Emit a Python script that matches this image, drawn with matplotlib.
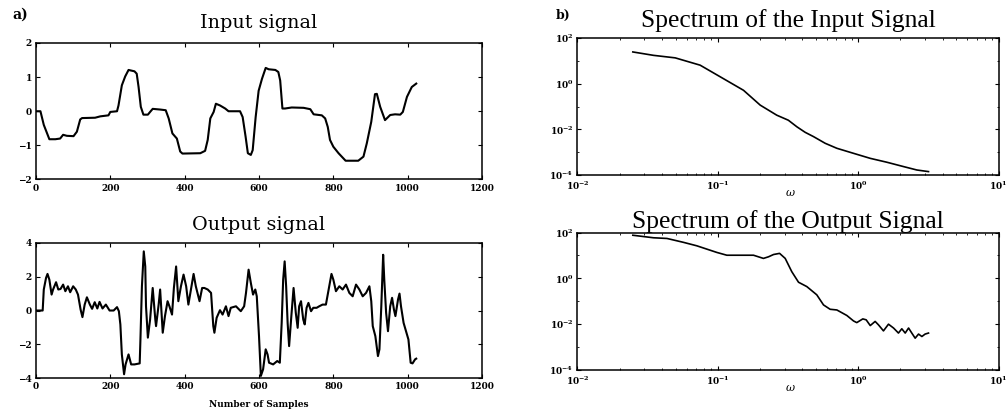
import matplotlib
matplotlib.use('Agg')
import matplotlib.pyplot as plt
from matplotlib.ticker import LogLocator, NullFormatter

# input signal (sample index, value)
in_samples = [0, 12, 21, 36, 52, 65, 73, 83, 101, 110,
              119, 124, 159, 173, 195, 200, 218, 222, 231, 240,
              249, 265, 271, 276, 282, 289, 301, 307, 314, 334,
              349, 357, 367, 379, 388, 394, 442, 455, 462, 469,
              478, 484, 495, 509, 518, 549, 556, 564, 570, 578,
              583, 591, 599, 608, 618, 626, 644, 652, 657, 663,
              670, 688, 720, 738, 747, 769, 778, 785, 791, 800,
              814, 833, 867, 881, 890, 902, 912, 917, 926, 939,
              953, 966, 980, 987, 998, 1011, 1023]
in_values = [0, 0, -0.4, -0.82, -0.82, -0.8, -0.69, -0.72, -0.73, -0.6,
             -0.24, -0.2, -0.19, -0.15, -0.12, -0.02, 0, 0.17, 0.76, 1.02,
             1.21, 1.17, 1.1, 0.71, 0.13, -0.1, -0.1, -0.02, 0.07, 0.05,
             0.03, -0.21, -0.65, -0.8, -1.18, -1.24, -1.23, -1.16, -0.84, -0.21,
             -0.02, 0.22, 0.17, 0.08, 0, 0, -0.17, -0.75, -1.23, -1.28,
             -1.14, -0.17, 0.6, 0.95, 1.27, 1.23, 1.21, 1.15, 0.9, 0.08,
             0.08, 0.11, 0.1, 0.06, -0.09, -0.12, -0.21, -0.46, -0.84, -1.04,
             -1.23, -1.45, -1.45, -1.33, -0.94, -0.31, 0.5, 0.51, 0.13, -0.26,
             -0.11, -0.09, -0.1, -0.02, 0.42, 0.71, 0.81]

# output signal
out_samples = [0, 18, 21, 27, 31, 36, 42, 46, 54, 60,
               66, 73, 79, 86, 92, 100, 107, 113, 120, 125,
               131, 137, 145, 151, 158, 165, 171, 179, 188, 198,
               209, 218, 223, 227, 231, 237, 241, 249, 256, 265,
               279, 281, 285, 290, 294, 296, 301, 307, 314, 321,
               323, 330, 334, 341, 347, 354, 359, 366, 371, 377,
               383, 390, 397, 404, 410, 417, 424, 430, 440, 447,
               453, 462, 471, 477, 480, 486, 495, 502, 511, 518,
               524, 538, 551, 560, 565, 572, 578, 584, 590, 594,
               600, 605, 611, 618, 623, 627, 638, 649, 656, 661,
               665, 669, 673, 677, 681, 687, 693, 699, 704, 708,
               713, 719, 723, 728, 733, 740, 746, 755, 762, 771,
               780, 789, 795, 800, 807, 816, 825, 834, 843, 852,
               861, 870, 879, 888, 897, 902, 906, 913, 920, 924,
               929, 934, 937, 942, 947, 953, 958, 963, 967, 974,
               978, 982, 989, 998, 1002, 1008, 1013, 1020, 1023]
out_values = [0, 0, 1.24, 1.92, 2.16, 1.82, 0.94, 1.24, 1.67, 1.24,
              1.27, 1.53, 1.14, 1.43, 1.08, 1.43, 1.24, 0.94, 0.06, -0.39,
              0.35, 0.78, 0.35, 0.1, 0.49, 0.12, 0.51, 0.12, 0.35, 0,
              0, 0.2, -0.04, -0.82, -2.59, -3.76, -3.18, -2.59, -3.18, -3.18,
              -3.12, -1.71, 1.43, 3.49, 2.6, 0.25, -1.6, -0.53, 1.33, -0.53,
              -0.92, 0.35, 1.24, -1.31, -0.33, 0.55, 0.25, -0.24, 1.33, 2.6,
              0.55, 1.43, 2.12, 1.43, 0.35, 1.24, 2.16, 1.43, 0.55, 1.33,
              1.33, 1.24, 1.04, -0.92, -1.31, -0.43, 0.02, -0.24, 0.25, -0.33,
              0.16, 0.25, -0.04, 0.25, 1.04, 2.41, 1.63, 0.94, 1.24, 0.84,
              -1.51, -3.86, -3.47, -2.29, -2.59, -3.08, -3.18, -2.98, -3.08, -0.73,
              1.82, 2.9, 1.43, -0.73, -2.1, -0.33, 1.33, -0.14, -1.02, 0.25,
              0.55, -0.53, -0.82, 0.16, 0.45, -0.04, 0.16, 0.16, 0.25, 0.35,
              0.35, 1.43, 2.16, 1.82, 1.14, 1.43, 1.24, 1.53, 1.04, 0.84,
              1.53, 1.24, 0.84, 1.04, 1.43, 0.55, -0.92, -1.51, -2.69, -2.29,
              0.25, 3.29, 1.82, -0.14, -1.22, 0.25, 0.75, 0.06, -0.33, 0.65,
              1.0, 0.25, -0.73, -1.41, -1.71, -3.08, -3.12, -2.88, -2.84]

# spectrum of the input signal
in_freq = [0.0248, 0.0348, 0.0497, 0.0748, 0.1096, 0.1524, 0.2004, 0.263, 0.318, 0.366,
           0.419, 0.481, 0.582, 0.705, 0.927, 1.219, 1.6, 2.104, 2.618, 3.17]
in_power = [24.5, 17.4, 13.5, 6.46, 1.66, 0.513, 0.115, 0.0417, 0.0251, 0.0129,
            0.00741, 0.00479, 0.00245, 0.00148, 0.00089, 0.000537, 0.000363, 0.000234, 0.000166, 0.000141]

# spectrum of the output signal
out_freq = [0.0248, 0.0348, 0.0434, 0.0569, 0.0708, 0.0984, 0.1159, 0.1795, 0.2113, 0.2296,
            0.2495, 0.2754, 0.302, 0.3365, 0.3758, 0.4305, 0.507, 0.5662, 0.631, 0.705,
            0.83, 0.927, 0.977, 1.079, 1.14, 1.219, 1.321, 1.396, 1.514, 1.644,
            1.786, 1.936, 2.046, 2.163, 2.286, 2.41, 2.547, 2.692, 2.844, 2.999, 3.17]
out_power = [75.9, 58.9, 55.0, 37.2, 26.3, 13.5, 10.2, 10.2, 7.41, 8.71,
             10.96, 12.3, 7.41, 1.95, 0.676, 0.437, 0.191, 0.0692, 0.0447, 0.0417,
             0.024, 0.0138, 0.0117, 0.017, 0.0155, 0.0087, 0.0132, 0.0093, 0.0051, 0.01,
             0.0068, 0.0041, 0.0063, 0.0041, 0.0068, 0.0041, 0.00245, 0.0037, 0.0029, 0.0037, 0.0041]

plt.rcParams['font.family'] = 'DejaVu Serif'
plt.rcParams['mathtext.fontset'] = 'dejavuserif'

fig = plt.figure(figsize=(10.08, 4.19), dpi=100)

ax1 = fig.add_axes([0.0357, 0.5716, 0.4425, 0.3258])
ax2 = fig.add_axes([0.0357, 0.0971, 0.4425, 0.3236])
ax3 = fig.add_axes([0.5729, 0.5823, 0.4177, 0.327])
ax4 = fig.add_axes([0.5729, 0.1169, 0.4177, 0.3282])


def style(ax):
    for s in ax.spines.values():
        s.set_linewidth(1.1)
    ax.tick_params(direction='in', top=True, right=True, length=3, width=0.8,
                   labelsize=6.5, pad=3)
    ax.tick_params(which='minor', direction='in', top=True, right=True, length=1.5, width=0.6)
    for lab in ax.get_xticklabels() + ax.get_yticklabels():
        lab.set_fontweight('bold')


# a) time signals
ax1.plot(in_samples, in_values, color='black', lw=1.5)
ax1.set_xlim(0, 1200)
ax1.set_ylim(-2, 2)
ax1.set_xticks(range(0, 1201, 200))
ax1.set_yticks([-2, -1, 0, 1, 2])
ax1.set_title('Input signal', fontsize=13.8, pad=10.5)
style(ax1)

ax2.plot(out_samples, out_values, color='black', lw=1.5)
ax2.set_xlim(0, 1200)
ax2.set_ylim(-4, 4)
ax2.set_xticks(range(0, 1201, 200))
ax2.set_yticks([-4, -2, 0, 2, 4])
ax2.set_title('Output signal', fontsize=13.8, pad=9)
ax2.set_xlabel('Number of Samples', fontsize=6.5, fontweight='bold', labelpad=6)
style(ax2)

# b) spectra
for ax, f, p, title, pad in [(ax3, in_freq, in_power, 'Spectrum of the Input Signal', 8),
                             (ax4, out_freq, out_power, 'Spectrum of the Output Signal', 3)]:
    ax.loglog(f, p, color='black', lw=1.2)
    ax.set_xlim(1e-2, 1e1)
    ax.set_ylim(1e-4, 1e2)
    ax.set_yticks([1e-4, 1e-2, 1e0, 1e2])
    ax.xaxis.set_minor_locator(LogLocator(base=10, subs=range(2, 10)))
    ax.xaxis.set_minor_formatter(NullFormatter())
    ax.yaxis.set_minor_locator(LogLocator(base=10, subs=[1.0], numticks=10))
    ax.yaxis.set_minor_formatter(NullFormatter())
    ax.set_title(title, fontsize=18.4, fontfamily='Liberation Serif', pad=pad)
    ax.text(0.505, -0.13, r'$\omega$', transform=ax.transAxes, ha='center', va='center',
            fontsize=8, fontweight='bold')
    style(ax)

fig.text(0.012, 0.955, 'a)', fontsize=10, fontweight='bold')
fig.text(0.551, 0.955, 'b)', fontsize=9, fontweight='bold')

fig.savefig('out.png', dpi=100)
